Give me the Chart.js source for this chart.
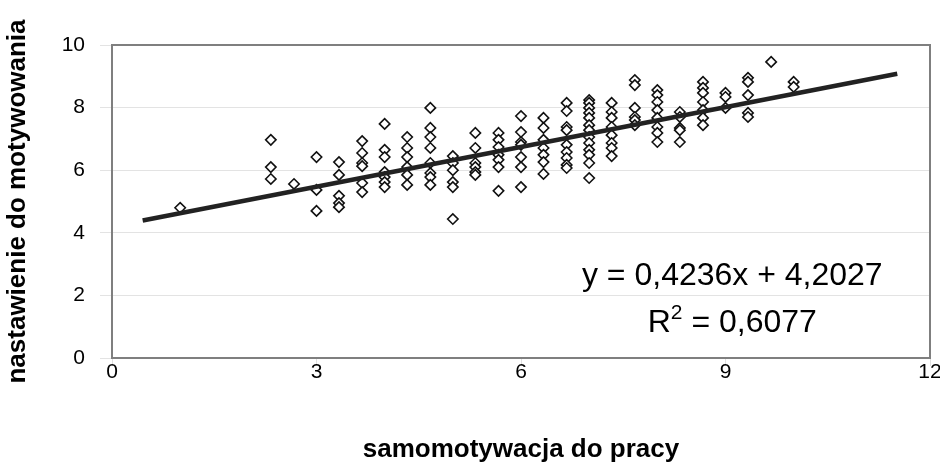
<!DOCTYPE html>
<html>
<head>
<meta charset="utf-8">
<script src="https://cdn.jsdelivr.net/npm/chart.js@4.4.1/dist/chart.umd.min.js"></script>
<style>
    html, body { margin: 0; padding: 0; background: #fff; }
    #wrap { width: 940px; height: 474px; }
</style>
</head>
<body>
<div id="wrap"><canvas id="scatterChart"></canvas></div>
<script>
// columns of the scatter (x values) and the y values read in each column
const xColumns = [1, 2.33, 2.67, 3, 3.33, 3.67, 4, 4.33, 4.67, 5, 5.33, 5.67, 6, 6.33, 6.67, 7, 7.33, 7.67, 8, 8.33, 8.67, 9, 9.33, 9.67, 10];
const yColumns = [
    [4.8],
    [6.97, 6.1, 5.72],
    [5.56],
    [6.42, 5.37, 4.7],
    [6.26, 5.85, 5.18, 4.95, 4.82],
    [6.93, 6.55, 6.23, 6.13, 5.59, 5.3],
    [7.48, 6.65, 6.42, 5.94, 5.78, 5.62, 5.46],
    [7.06, 6.71, 6.42, 6.1, 5.85, 5.53],
    [7.99, 7.35, 7.06, 6.71, 6.23, 5.91, 5.78, 5.53],
    [6.45, 6.23, 6.0, 5.62, 5.46, 4.44],
    [7.19, 6.71, 6.23, 6.1, 5.94, 5.85],
    [7.19, 6.97, 6.74, 6.49, 6.33, 6.1, 5.34],
    [7.73, 7.22, 6.9, 6.81, 6.42, 6.1, 5.46],
    [7.67, 7.35, 6.97, 6.71, 6.49, 6.26, 5.88],
    [8.15, 7.89, 7.38, 7.28, 6.81, 6.58, 6.39, 6.17, 6.07],
    [8.24, 8.15, 7.99, 7.83, 7.67, 7.44, 7.28, 7.06, 6.87, 6.65, 6.49, 6.23, 5.75],
    [8.15, 7.86, 7.67, 7.38, 7.12, 6.87, 6.71, 6.45],
    [8.88, 8.72, 7.99, 7.7, 7.6, 7.44],
    [8.56, 8.4, 8.18, 7.92, 7.67, 7.38, 7.19, 6.9],
    [7.86, 7.7, 7.35, 7.28, 6.9],
    [8.82, 8.63, 8.47, 8.18, 7.92, 7.67, 7.44],
    [8.47, 8.34, 7.99],
    [8.95, 8.82, 8.4, 7.83, 7.7],
    [9.46],
    [8.82, 8.66]
];

// trend line: y = 0,4236x + 4,2027
const slope = 0.4236;
const intercept = 4.2027;
const trendRange = [0.45, 11.52];
const eqText = 'y = 0,4236x + 4,2027';
const r2Text = ' = 0,6077';

const xTicks = [0, 3, 6, 9, 12];
const yTicks = [0, 2, 4, 6, 8, 10];

const FONT = '"Liberation Sans", Arial, sans-serif';

const points = [];
xColumns.forEach((x, i) => {
    yColumns[i].forEach(y => points.push({ x: x, y: y }));
});
const trendPoints = trendRange.map(x => ({ x: x, y: slope * x + intercept }));

const equationPlugin = {
    id: 'equation',
    afterDatasetsDraw(chart) {
        const { ctx, scales } = chart;
        const cx = scales.x.getPixelForValue(9.1);
        ctx.save();
        ctx.fillStyle = '#000';
        ctx.textBaseline = 'alphabetic';
        ctx.textAlign = 'center';
        ctx.font = '32px ' + FONT;
        ctx.fillText(eqText, cx, scales.y.getPixelForValue(2.33));

        // R² line with a real superscript
        const base2 = scales.y.getPixelForValue(0.83);
        ctx.textAlign = 'left';
        const wR = ctx.measureText('R').width;
        const wRest = ctx.measureText(r2Text).width;
        ctx.font = '21px ' + FONT;
        const wSup = ctx.measureText('2').width;
        let x0 = cx - (wR + wSup + wRest) / 2;
        ctx.font = '32px ' + FONT;
        ctx.fillText('R', x0, base2);
        ctx.font = '21px ' + FONT;
        ctx.fillText('2', x0 + wR, base2 - 13);
        ctx.font = '32px ' + FONT;
        ctx.fillText(r2Text, x0 + wR + wSup, base2);
        ctx.restore();
    }
};

const borderPlugin = {
    id: 'plotBorder',
    afterDraw(chart) {
        const { ctx, chartArea: a } = chart;
        ctx.save();
        ctx.strokeStyle = '#7f7f7f';
        ctx.lineWidth = 2;
        ctx.strokeRect(a.left, a.top, a.right - a.left, a.bottom - a.top);
        ctx.restore();
    }
};

new Chart(document.getElementById('scatterChart'), {
    type: 'scatter',
    data: {
        datasets: [
            {
                label: 'dane',
                data: points,
                pointStyle: 'rectRot',
                pointRadius: 5.2,
                pointBorderWidth: 1.6,
                pointBorderColor: '#111',
                pointBackgroundColor: '#fff',
                order: 2
            },
            {
                label: 'trend',
                type: 'line',
                data: trendPoints,
                borderColor: '#222',
                borderWidth: 4.5,
                pointRadius: 0,
                fill: false,
                order: 1
            }
        ]
    },
    options: {
        responsive: true,
        maintainAspectRatio: false,
        animation: false,
        layout: { padding: { top: 45, right: 10, left: 0, bottom: 0 } },
        plugins: {
            legend: { display: false },
            tooltip: { enabled: false }
        },
        scales: {
            x: {
                type: 'linear',
                min: 0,
                max: 12,
                afterBuildTicks: (s) => { s.ticks = xTicks.map(v => ({ value: v })); },
                afterFit: (s) => { s.height = 116; },
                grid: { display: true, drawOnChartArea: false, drawTicks: true, tickLength: 8, color: '#e0e0e0' },
                border: { display: false },
                ticks: {
                    color: '#000',
                    padding: -6,
                    font: { family: FONT, size: 21 }
                },
                title: {
                    display: true,
                    text: 'samomotywacja do pracy',
                    color: '#000',
                    padding: { top: 0, bottom: 9 },
                    font: { family: FONT, size: 26, weight: 'bold' }
                }
            },
            y: {
                min: 0,
                max: 10,
                afterBuildTicks: (s) => { s.ticks = yTicks.map(v => ({ value: v })); },
                afterFit: (s) => { s.width = 112; },
                grid: { color: '#e3e3e3', lineWidth: 1, tickLength: 12 },
                border: { display: false },
                ticks: {
                    color: '#000',
                    padding: 15,
                    font: { family: FONT, size: 21 }
                },
                title: {
                    display: true,
                    text: 'nastawienie do motywowania',
                    color: '#000',
                    padding: { top: 2, bottom: 0 },
                    font: { family: FONT, size: 26, weight: 'bold' }
                }
            }
        }
    },
    plugins: [equationPlugin, borderPlugin]
});
</script>
</body>
</html>
